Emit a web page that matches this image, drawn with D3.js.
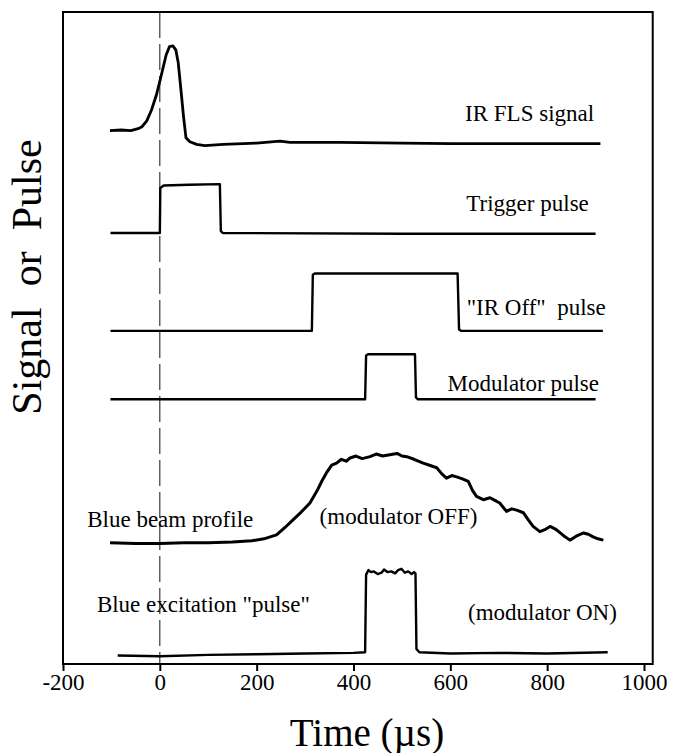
<!DOCTYPE html>
<html><head><meta charset="utf-8">
<script src="https://cdn.jsdelivr.net/npm/d3@7"></script>
<style>body{margin:0;background:#fff}</style>
</head><body><svg id="c" width="682" height="753"></svg>
<script>
const xTicks = [-200, 0, 200, 400, 600, 800, 1000];
const xTitle = "Time (\u00b5s)";
const yTitle = "Signal  or  Pulse";

// [time µs, signal (arbitrary units, stacked)]
const irFlsSignal = [[-103,81.8],[-80,81.9],[-60,81.8],[-45,82.1],[-37,82.4],[-27,83.3],[-17,85.0],[-7,87.3],[3,90.3],[13,93.4],[20,94.7],[27,94.8],[33,94.2],[38,92.2],[43,88.5],[49,83.9],[54,80.7],[62,80.1],[76,79.7],[93,79.5],[131,79.7],[200,79.9],[248,80.2],[269,80.0],[372,80.0],[500,79.9],[600,79.8],[700,79.8],[800,79.8],[910,79.8]];
const triggerPulse = [[-102,66.1],[0,66.1],[1,73.0],[8,73.4],[60,73.5],[124,73.6],[126,66.4],[130,66.1],[500,66.0],[900,66.0]];
const irOffPulse = [[-102,51.1],[314,51.1],[316,59.7],[320,59.9],[460,59.9],[615,59.9],[618,51.3],[622,51.1],[915,51.1]];
const modulatorPulse = [[-102,40.6],[424,40.6],[426,47.3],[430,47.5],[480,47.5],[527,47.5],[529,40.9],[533,40.6],[900,40.6]];
const blueBeamProfile = [[-103,18.6],[-50,18.5],[0,18.5],[50,18.6],[100,18.6],[150,18.7],[190,18.9],[215,19.2],[241,19.8],[258,20.9],[275,22.1],[292,23.3],[310,24.7],[325,26.6],[335,28.1],[344,29.3],[355,30.5],[365,30.8],[375,31.4],[385,31.1],[393,31.6],[405,31.9],[418,31.5],[434,31.8],[447,32.2],[460,31.9],[475,32.1],[490,32.3],[500,31.9],[510,31.8],[525,31.4],[544,30.8],[560,30.4],[572,30.1],[582,29.2],[592,28.5],[603,28.9],[613,28.7],[625,28.4],[637,28.0],[646,26.6],[654,25.7],[668,25.2],[682,25.5],[692,25.1],[702,24.7],[716,23.4],[727,23.8],[737,23.6],[751,23.2],[761,22.1],[771,21.1],[785,20.3],[795,20.6],[806,21.1],[817,20.7],[827,20.1],[837,19.5],[847,19.0],[860,19.6],[875,20.1],[885,19.9],[895,19.5],[905,19.2],[916,19.0]];
const blueExcitationPulse = [[-87,1.3],[0,1.2],[100,1.4],[200,1.5],[300,1.6],[400,1.7],[424,1.8],[426,13.7],[431,14.4],[436,14.1],[442,14.2],[450,13.8],[458,14.0],[463,14.5],[470,14.1],[478,14.2],[486,13.9],[492,14.4],[499,14.6],[506,14.0],[513,14.2],[520,13.8],[525,14.1],[528,13.9],[530,2.3],[536,1.8],[600,1.6],[700,1.7],[800,1.6],[925,1.8]];

const labels = [
  {text:"IR FLS signal", t:897, v:83.3, anchor:"end"},
  {text:"Trigger pulse", t:886, v:69.5, anchor:"end"},
  {text:"\"IR Off\"  pulse", t:921, v:53.6, anchor:"end"},
  {text:"Modulator pulse", t:907, v:41.9, anchor:"end"},
  {text:"Blue beam profile", t:-150, v:21.0, anchor:"start"},
  {text:"(modulator OFF)", t:330, v:21.5, anchor:"start"},
  {text:"Blue excitation \"pulse\"", t:-130, v:8.0, anchor:"start"},
  {text:"(modulator ON)", t:944, v:6.8, anchor:"end"}
];

const svg = d3.select("#c");
const x = d3.scaleLinear().domain([-200, 1000]).range([63, 644]);
const y = d3.scaleLinear().domain([0, 100]).range([664, 12]);
const font = "'Liberation Serif', 'Times New Roman', serif";

// dashed zero line
svg.append("line").attr("x1", x(0)).attr("x2", x(0)).attr("y1", y(100)).attr("y2", y(0))
  .attr("stroke", "#111").attr("stroke-width", 1).attr("stroke-dasharray", "26,6");

// traces
const line = d3.line().x(d => x(d[0])).y(d => y(d[1]));
[[irFlsSignal,2.8],[triggerPulse,2.4],[irOffPulse,2.4],[modulatorPulse,2.4],[blueBeamProfile,3],[blueExcitationPulse,2.4]].forEach(([s,w]) => {
  svg.append("path").datum(s).attr("d", line).attr("fill", "none")
    .attr("stroke", "#000").attr("stroke-width", w).attr("stroke-linejoin", "round");
});

// frame
svg.append("rect").attr("x", x(-200)).attr("y", y(100)).attr("width", x(1018) - x(-200)).attr("height", y(0) - y(100))
  .attr("fill", "none").attr("stroke", "#000").attr("stroke-width", 2);

// x axis
const ax = svg.append("g").attr("transform", `translate(0,${y(0)})`)
  .call(d3.axisBottom(x).tickValues(xTicks).tickSizeInner(7).tickSizeOuter(0).tickPadding(3).tickFormat(d => String(d)));
ax.select(".domain").remove();
ax.selectAll(".tick line").attr("stroke", "#000").attr("stroke-width", 2);
ax.selectAll(".tick text").attr("font-family", font).attr("font-size", 23).attr("fill", "#000");

// axis titles
svg.append("text").attr("x", 367).attr("y", 746).attr("text-anchor", "middle")
  .attr("font-family", font).attr("font-size", 39).text(xTitle);
svg.append("text").attr("transform", "translate(41,277) rotate(-90)").attr("text-anchor", "middle")
  .style("white-space", "pre")
  .attr("font-family", font).attr("font-size", 42).text(yTitle);

// annotations
svg.selectAll("text.lab").data(labels).enter().append("text").attr("class", "lab")
  .attr("x", d => x(d.t)).attr("y", d => y(d.v)).attr("text-anchor", d => d.anchor)
  .style("white-space", "pre")
  .attr("font-family", font).attr("font-size", 23).text(d => d.text);
</script></body></html>
